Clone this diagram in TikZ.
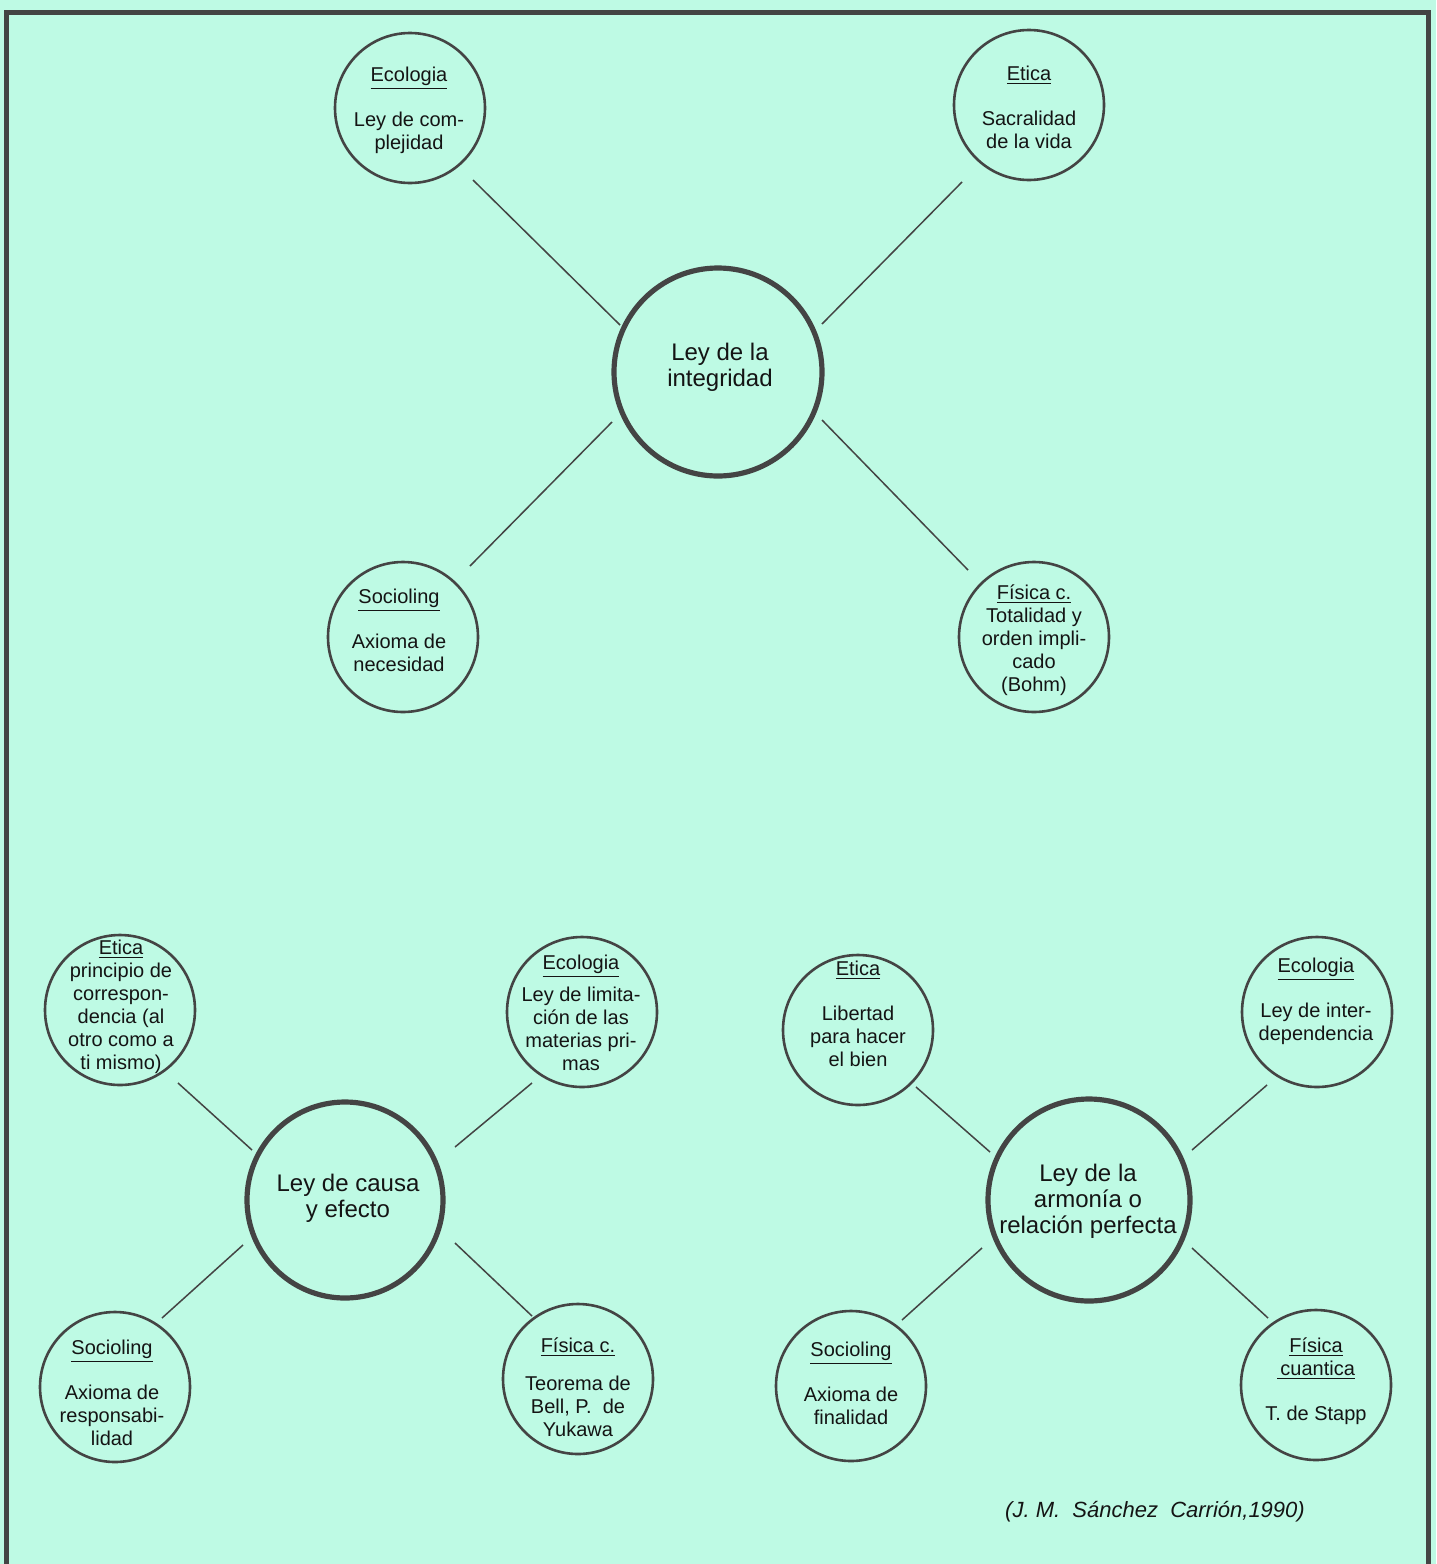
\documentclass[tikz,border=0pt]{standalone}
\usepackage{fontspec}
\setmainfont{Liberation Sans}
\usetikzlibrary{calc}
\definecolor{bgc}{RGB}{190,250,228}
\definecolor{ink}{RGB}{68,68,68}
\definecolor{txc}{RGB}{20,20,20}
\begin{document}
\begin{tikzpicture}[x=0.5pt,y=-0.5pt,
 smallc/.style={circle,draw=ink,line width=1.3pt,minimum size=75pt,inner sep=0pt},
 bigc/.style={circle,draw=ink,line width=2.6pt,inner sep=0pt},
 txt/.style={align=center,text=txc,font=\fontsize{10}{11.5}\selectfont,inner sep=0pt},
 bigtxt/.style={align=center,text=txc,font=\fontsize{12}{13}\selectfont,inner sep=0pt},
 conn/.style={draw=ink,line width=0.75pt}]
\fill[bgc] (0,0) rectangle (1436,1564);
\useasboundingbox (0,0) rectangle (1436,1564);
\draw[ink,line width=2.5pt] (6.5,1564) -- (6.5,12.5) -- (1428.5,12.5) -- (1428.5,1564);

% ---------- top group ----------
\node[bigc,minimum size=104pt] (cen1) at (718,372) {};
\node[bigtxt] (cen1t) at (720,367) {Ley de la\\integridad};
\node[smallc] (eco1) at (410,108) {};
\node[txt] (eco1t) at (409,110) {\underline{Ecologia}\\[11pt]Ley de com-\\plejidad};
\node[smallc] (eti1) at (1029,105) {};
\node[txt] (eti1t) at (1029,107) {\underline{Etica}\\[11pt]Sacralidad\\de la vida};
\node[smallc] (soc1) at (403,637) {};
\node[txt] (soc1t) at (399,630) {\underline{Socioling}\\[11pt]Axioma de\\necesidad};
\node[smallc] (fis1) at (1034,637) {};
\node[txt] (fis1t) at (1034,640) {\underline{Física c.}\\Totalidad y\\orden impli-\\cado\\(Bohm)};

\draw[conn] ($(eco1)+(63,72)$) -- ($(cen1)+(-98,-47)$);
\draw[conn] ($(eti1)+(-67,77)$) -- ($(cen1)+(104,-48)$);
\draw[conn] ($(cen1)+(-106,50)$) -- ($(soc1)+(67,-71)$);
\draw[conn] ($(cen1)+(104,48)$) -- ($(fis1)+(-66,-67)$);

% ---------- bottom-left group ----------
\node[bigc,minimum size=98pt] (cen2) at (345,1200) {};
\node[bigtxt] (cen2t) at (348,1198) {Ley de causa\\y efecto};
\node[smallc] (eti2) at (120,1010) {};
\node[txt] (eti2t) at (121,1007) {\underline{Etica}\\principio de\\correspon-\\dencia (al\\otro como a\\ti mismo)};
\node[smallc] (eco2) at (582,1012) {};
\node[txt] (eco2t) at (581,1013) {\underline{Ecologia}\\[4.5pt]Ley de limita-\\ción de las\\materias pri-\\mas};
\node[smallc] (soc2) at (115,1387) {};
\node[txt] (soc2t) at (112,1393) {\underline{Socioling}\\[11pt]Axioma de\\responsabi-\\lidad};
\node[smallc] (fis2) at (578,1379) {};
\node[txt] (fis2t) at (578,1387) {\underline{Física c.}\\[7.5pt]Teorema de\\Bell, P.\ \ de\\Yukawa};

\draw[conn] ($(eti2)+(58,73)$) -- ($(cen2)+(-93,-50)$);
\draw[conn] ($(eco2)+(-50,71)$) -- ($(cen2)+(110,-53)$);
\draw[conn] ($(cen2)+(-102,45)$) -- ($(soc2)+(47,-69)$);
\draw[conn] ($(cen2)+(110,43)$) -- ($(fis2)+(-46,-63)$);

% ---------- bottom-right group ----------
\node[bigc,minimum size=101pt] (cen3) at (1089,1200) {};
\node[bigtxt] (cen3t) at (1088,1201) {Ley de la\\armonía o\\relación perfecta};
\node[smallc] (eti3) at (858,1030) {};
\node[txt] (eti3t) at (858,1014) {\underline{Etica}\\[11pt]Libertad\\para hacer\\el bien};
\node[smallc] (eco3) at (1317,1012) {};
\node[txt] (eco3t) at (1316,1001) {\underline{Ecologia}\\[11pt]Ley de inter-\\dependencia};
\node[smallc] (soc3) at (851,1386) {};
\node[txt] (soc3t) at (851,1383) {\underline{Socioling}\\[11pt]Axioma de\\finalidad};
\node[smallc] (fis3) at (1316,1385) {};
\node[txt] (fis3t) at (1316,1381) {\underline{Física}\\\underline{\,cuantica}\\[11pt]T. de Stapp};

\draw[conn] ($(eti3)+(58,57)$) -- ($(cen3)+(-99,-48)$);
\draw[conn] ($(eco3)+(-50,73)$) -- ($(cen3)+(103,-50)$);
\draw[conn] ($(cen3)+(-107,48)$) -- ($(soc3)+(51,-66)$);
\draw[conn] ($(cen3)+(103,48)$) -- ($(fis3)+(-48,-67)$);

% ---------- credit ----------
\node[text=txc,font=\fontsize{11}{13}\selectfont\itshape,inner sep=0pt] (credit) at (1155,1512) {(J. M.\ \ Sánchez\ \ Carrión,1990)};
\end{tikzpicture}
\end{document}
